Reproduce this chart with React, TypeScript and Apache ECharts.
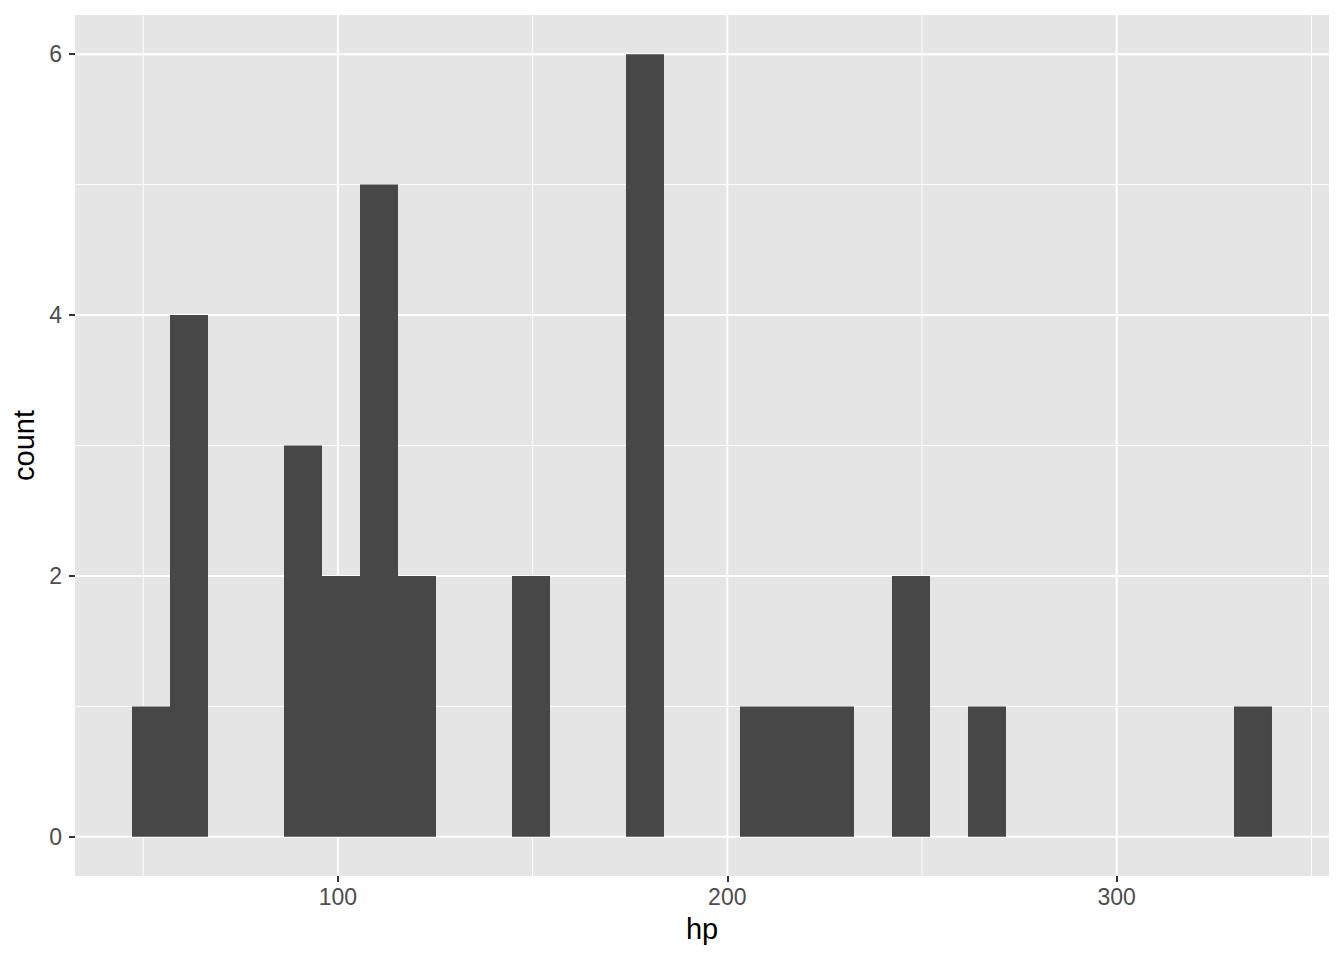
import React, { useEffect, useRef } from 'react';
import * as echarts from 'echarts';

// histogram of hp, 30 bins
const binStart = 47.12;
const binWidth = 9.7586;
const counts = [1, 4, 0, 0, 3, 2, 5, 2, 0, 0, 2, 0, 0, 6, 0, 0, 1, 1, 1, 0, 2, 0, 1, 0, 0, 0, 0, 0, 0, 1];

const xMajor = [100, 200, 300];
const xMinor = [50, 150, 250, 350];
const yMajor = [0, 2, 4, 6];
const yMinor = [1, 3, 5];

const X_MIN = 32.48;
const X_MAX = 354.52;
const Y_MIN = -0.3;
const Y_MAX = 6.3;

const App: React.FC = () => {
  const chartRef = useRef<HTMLDivElement>(null);

  useEffect(() => {
    if (!chartRef.current) return;
    const chart = echarts.init(chartRef.current, null, { renderer: 'svg' });

    const bars = counts.map((c, i) => [binStart + i * binWidth, binStart + (i + 1) * binWidth, c]);
    const gridLines = [
      ...xMajor.map((v) => ['x', v, 2]),
      ...xMinor.map((v) => ['x', v, 1]),
      ...yMajor.map((v) => ['y', v, 2]),
      ...yMinor.map((v) => ['y', v, 1]),
    ];

    const option: echarts.EChartsOption = {
      animation: false,
      backgroundColor: '#ffffff',
      grid: { left: 75, right: 15, top: 15, bottom: 84, backgroundColor: '#E5E5E5', show: true, borderWidth: 0 },
      xAxis: {
        type: 'value',
        min: X_MIN,
        max: X_MAX,
        name: 'hp',
        nameLocation: 'middle',
        nameGap: 38,
        nameTextStyle: { color: '#000', fontSize: 29, fontFamily: 'Liberation Sans' },
        axisLine: { show: false, onZero: false },
        axisTick: { show: true, customValues: xMajor, length: 6, lineStyle: { color: '#333', width: 2 } },
        axisLabel: { customValues: xMajor, color: '#4D4D4D', fontSize: 23, fontFamily: 'Liberation Sans', margin: 9 },
        splitLine: { show: false },
      },
      yAxis: {
        type: 'value',
        min: Y_MIN,
        max: Y_MAX,
        name: 'count',
        nameLocation: 'middle',
        nameGap: 34,
        nameTextStyle: { color: '#000', fontSize: 29, fontFamily: 'Liberation Sans' },
        axisLine: { show: false, onZero: false },
        axisTick: { show: true, customValues: yMajor, length: 6, lineStyle: { color: '#333', width: 2 } },
        axisLabel: { customValues: yMajor, color: '#4D4D4D', fontSize: 23, fontFamily: 'Liberation Sans', margin: 13 },
        splitLine: { show: false },
      },
      series: [
        {
          type: 'custom',
          silent: true,
          z: 1,
          data: gridLines,
          renderItem: (params: any, api: any) => {
            const dir = api.value(0);
            const v = api.value(1);
            const w = api.value(2);
            const p1 = dir === 'x' ? api.coord([v, Y_MIN]) : api.coord([X_MIN, v]);
            const p2 = dir === 'x' ? api.coord([v, Y_MAX]) : api.coord([X_MAX, v]);
            return {
              type: 'line',
              shape: { x1: p1[0], y1: p1[1], x2: p2[0], y2: p2[1] },
              style: { stroke: '#ffffff', lineWidth: w },
            };
          },
          encode: { x: 1, y: 1 },
        },
        {
          type: 'custom',
          z: 2,
          data: bars,
          renderItem: (params: any, api: any) => {
            const lo = api.value(0);
            const hi = api.value(1);
            const c = api.value(2);
            if (!c) return null;
            const a = api.coord([lo, c]);
            const b = api.coord([hi, 0]);
            return {
              type: 'rect',
              shape: { x: a[0], y: a[1], width: b[0] - a[0], height: b[1] - a[1] },
              style: { fill: '#474747' },
            };
          },
          encode: { x: [0, 1], y: 2 },
        },
      ],
    };

    chart.setOption(option);
    return () => {
      chart.dispose();
    };
  }, []);

  return <div ref={chartRef} style={{ position: 'fixed', left: 0, top: 0, width: 1344, height: 960 }} />;
};

export default App;
